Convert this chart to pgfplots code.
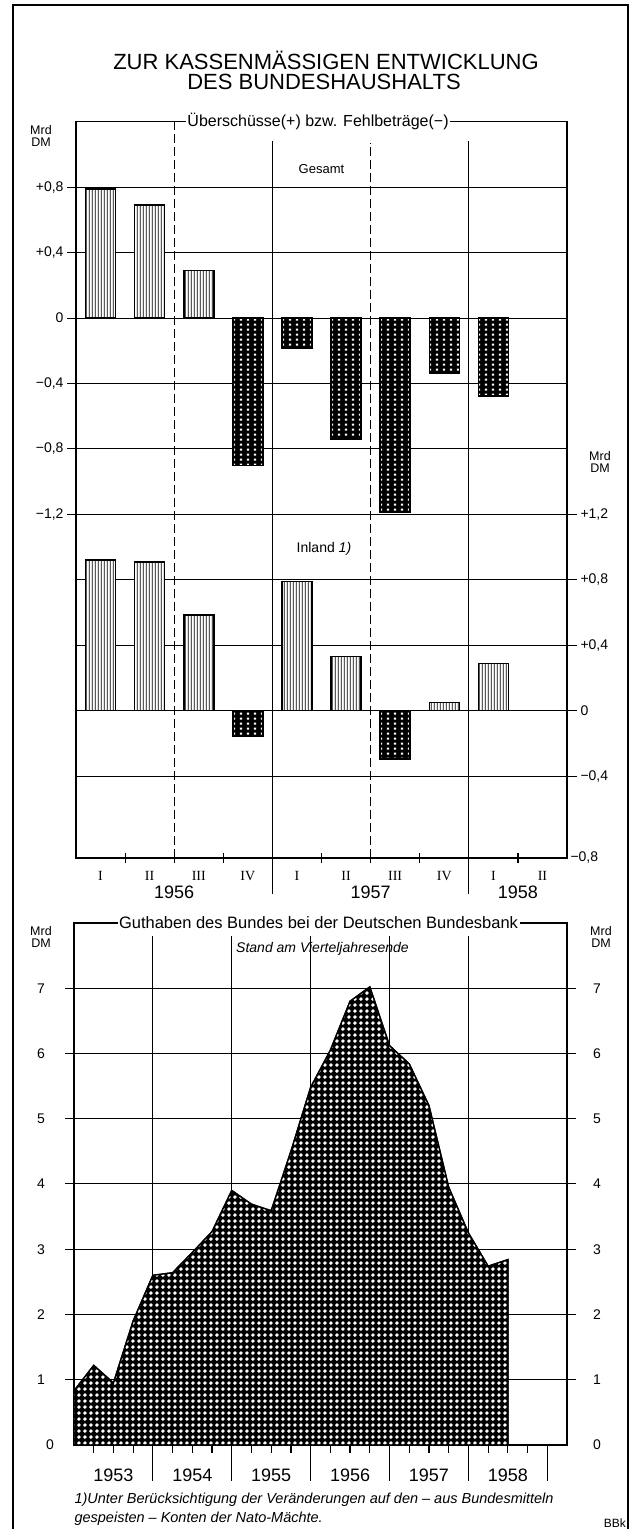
\documentclass[border=0pt]{standalone}
\usepackage{fontspec}
\setmainfont{Liberation Sans}
\newfontfamily\romfont{Liberation Serif}
\usepackage{pgfplots}
\pgfplotsset{compat=1.18}
\usetikzlibrary{patterns.meta}
\newcommand\fs[1]{\fontsize{#1}{#1}\selectfont}

\pgfdeclarepattern{
  name=vl,
  bottom left={\pgfpoint{0pt}{0pt}},
  top right={\pgfpoint{3.3pt}{3.3pt}},
  tile size={\pgfpoint{3.3pt}{3.3pt}},
  code={\pgfsetlinewidth{0.9pt}\pgfpathmoveto{\pgfpoint{1.65pt}{-0.2pt}}\pgfpathlineto{\pgfpoint{1.65pt}{3.5pt}}\pgfusepath{stroke}}
}
\pgfdeclarepattern{
  name=bdots,
  bottom left={\pgfpoint{0pt}{0pt}},
  top right={\pgfpoint{7pt}{5.3pt}},
  tile size={\pgfpoint{7pt}{5.3pt}},
  code={\pgfpathrectangle{\pgfpoint{2.2pt}{1.55pt}}{\pgfpoint{2.6pt}{2.2pt}}\pgfusepath{fill}}
}
\pgfdeclarepattern{
  name=adots,
  bottom left={\pgfpoint{0pt}{0pt}},
  top right={\pgfpoint{6.4pt}{6.4pt}},
  tile size={\pgfpoint{6.4pt}{6.4pt}},
  code={\pgfpathcircle{\pgfpoint{3.2pt}{3.2pt}}{2.1pt}\pgfusepath{fill}}
}

\pgfplotsset{
  posbar/.style={ybar, bar width=30pt, bar shift=0pt, draw=black, line width=1.5pt, fill=white, postaction={pattern=vl, pattern color=black}},
  negbar/.style={ybar, bar width=30pt, bar shift=0pt, draw=black, line width=1.5pt, fill=black, postaction={pattern=bdots, pattern color=white}},
}

\begin{document}
\begin{tikzpicture}[x=1pt,y=1pt]
\useasboundingbox (0,0) rectangle (635,1529);
\draw[line width=1.3pt] (13,0) -- (13,1524) -- (628,1524) -- (628,0);
\node[font=\fs{22}] at (326,1469) {ZUR KASSENMÄSSIGEN ENTWICKLUNG};
\node[font=\fs{22}] at (324,1447) {DES BUNDESHAUSHALTS};

% labels Mrd DM
\node[font=\fs{12.5}, align=center, inner sep=0pt] at (41,1393) {Mrd\\DM};
\node[font=\fs{12.5}, align=center, inner sep=0pt] at (600,1067) {Mrd\\DM};
\node[font=\fs{12.5}, align=center, inner sep=0pt] at (41,592) {Mrd\\DM};
\node[font=\fs{12.5}, align=center, inner sep=0pt] at (601,592) {Mrd\\DM};

% ---------------- top chart: Gesamt ----------------
\begin{axis}[
  at={(76pt,671pt)}, anchor=south west, scale only axis,
  width=491pt, height=736.3pt,
  xmin=0, xmax=10, ymin=-3.3, ymax=1.2,
  clip=false,
  axis line style={line width=1.4pt},
  xtick={0.5,1.5,...,9.5},
  xticklabels={I,II,III,IV,I,II,III,IV,I,II},
  xtick style={draw=none},
  xticklabel style={font=\romfont\fs{14}, anchor=center, yshift=-9pt},
  ytick={-1.2,-0.8,-0.4,0,0.4,0.8},
  yticklabels={−1{,}2,−0{,}8,−0{,}4,0,+0{,}4,+0{,}8},
  yticklabel style={font=\fs{14}},
  ytick pos=left, tick align=outside, major tick length=9pt,
  y tick style={line width=1pt, black},
  ymajorgrids, grid style={line width=1pt, black},
]
\draw[line width=1pt, dash pattern=on 9pt off 4pt] (axis cs:2,-3.3) -- (axis cs:2,1.2);
\draw[line width=1pt, dash pattern=on 9pt off 4pt] (axis cs:6,-3.3) -- (axis cs:6,1.07);
\draw[line width=1.1pt] (axis cs:4,1.08) -- (axis cs:4,-3.52);
\draw[line width=1.1pt] (axis cs:8,1.08) -- (axis cs:8,-3.52);
\pgfplotsinvokeforeach{1,2,3,5,6,7,9}{\draw[line width=1.2pt] (axis cs:#1,-3.269) -- (axis cs:#1,-3.331);}
\addplot[posbar] coordinates {(0.5,0.79) (1.5,0.69) (2.5,0.29)};
\addplot[negbar] coordinates {(3.5,-0.90) (4.5,-0.185) (5.5,-0.74) (6.5,-1.19) (7.5,-0.335) (8.5,-0.475)};
\node[fill=white, inner xsep=1.5pt, inner ysep=1pt, font=\fs{16}] at (axis cs:4.93,1.2) {Überschüsse(+) bzw. Fehlbeträge(−)};
\node[font=\fs{13}] at (axis cs:5,0.91) {Gesamt};
\node[font=\fs{14}] at (axis cs:5.05,-1.41) {Inland \textit{1)}};
\node[font=\fs{18}] at (axis cs:2,-3.51) {1956};
\node[font=\fs{18}] at (axis cs:6,-3.51) {1957};
\node[font=\fs{18}] at (axis cs:9,-3.51) {1958};
\end{axis}

% ---------------- top chart: Inland ----------------
\begin{axis}[
  at={(76pt,671pt)}, anchor=south west, scale only axis,
  width=491pt, height=736.3pt,
  xmin=0, xmax=10, ymin=-0.9, ymax=3.6,
  clip=false,
  axis x line=none, axis y line*=right,
  axis line style={line width=1.4pt},
  ytick={-0.4,0,0.4,0.8,1.2},
  yticklabels={−0{,}4,0,+0{,}4,+0{,}8,+1{,}2},
  yticklabel style={font=\fs{14}},
  ytick pos=right, tick align=outside, major tick length=10pt,
  y tick style={line width=1pt, black},
  ymajorgrids, grid style={line width=1pt, black},
  extra y ticks={-0.9}, extra y tick labels={−0{,}8},
  extra y tick style={major tick length=0pt, grid=none},
]
\addplot[posbar] coordinates {(0.5,0.92) (1.5,0.91) (2.5,0.585) (4.5,0.79) (5.5,0.33) (7.5,0.05) (8.5,0.29)};
\addplot[negbar] coordinates {(3.5,-0.155) (6.5,-0.295)};
\end{axis}

% ---------------- bottom chart ----------------
\begin{axis}[
  at={(74pt,84pt)}, anchor=south west, scale only axis,
  width=493pt, height=522pt,
  xmin=0, xmax=25, ymin=0, ymax=8,
  clip=false,
  axis line style={line width=1.4pt},
  xtick={2,6,10,14,18,22},
  xticklabels={1953,1954,1955,1956,1957,1958},
  xtick style={draw=none},
  xticklabel style={font=\fs{18}, anchor=center, yshift=-21pt},
  ytick={1,...,7},
  yticklabels={1,2,3,4,5,6,7},
  ytick pos=both, yticklabel pos=left,
  yticklabel style={font=\fs{14}, anchor=center, xshift=-24pt},
  tick align=outside, major tick length=9pt,
  y tick style={line width=1pt, black},
  ymajorgrids, grid style={line width=1pt, black},
  extra y ticks={0}, extra y tick labels={0}, extra y tick style={major tick length=0pt, grid=none},
]
\pgfplotsinvokeforeach{4,8,12,16,20}{\draw[line width=1.1pt] (axis cs:#1,0) -- (axis cs:#1,7.8);}
\addplot[draw=black, line width=1.4pt, fill=black, postaction={pattern=adots, pattern color=white}] coordinates {
 (0,0.83) (1,1.22) (2,0.95) (3,1.9) (4,2.6) (5,2.64) (6,2.95) (7,3.27) (8,3.9) (9,3.69)
 (10,3.59) (11,4.5) (12,5.48) (13,6.05) (14,6.8) (15,7.02) (16,6.12) (17,5.84) (18,5.2)
 (19,3.95) (20,3.25) (21,2.74) (22,2.84)} \closedcycle;
\pgfplotsinvokeforeach{1,2,3,5,6,7,9,10,11,13,14,15,17,18,19,21,22,23}{\draw[line width=1.2pt] (axis cs:#1,0) -- (axis cs:#1,-0.123);}
\pgfplotsinvokeforeach{4,8,12,16,20,24}{\draw[line width=1.2pt] (axis cs:#1,0) -- (axis cs:#1,-0.55);}
\node[fill=white, inner xsep=1.5pt, inner ysep=1pt, font=\fs{16.5}] at (axis cs:12.4,8) {Guthaben des Bundes bei der Deutschen Bundesbank};
\node[font=\itshape\fs{14}] at (axis cs:12.6,7.6) {Stand am Vierteljahresende};
\end{axis}

\begin{axis}[
  at={(74pt,84pt)}, anchor=south west, scale only axis,
  width=493pt, height=522pt,
  xmin=0, xmax=25, ymin=0, ymax=8,
  axis x line=none, axis y line*=right,
  axis line style={line width=1.4pt},
  ytick={0,...,7},
  yticklabels={0,1,2,3,4,5,6,7},
  yticklabel style={font=\fs{14}, anchor=center, xshift=30pt},
  major tick length=0pt,
]
\end{axis}

\node[font=\itshape\fs{14.5}, anchor=west] at (71,29) {1)Unter Berücksichtigung der Veränderungen auf den – aus Bundesmitteln};
\node[font=\itshape\fs{14.5}, anchor=west] at (71,10) {gespeisten – Konten der Nato-Mächte.};
\node[font=\fs{12}, anchor=east, inner sep=1pt] at (627,6) {BBk};
\end{tikzpicture}
\end{document}
